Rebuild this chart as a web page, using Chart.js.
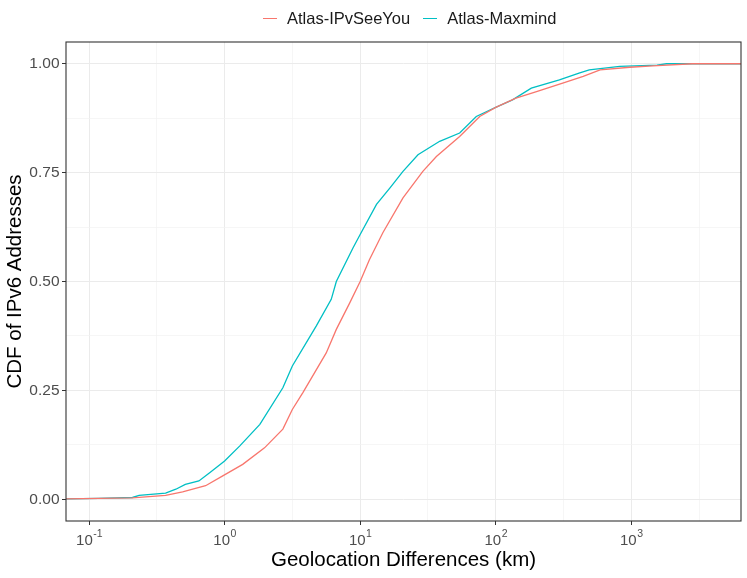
<!DOCTYPE html>
<html>
<head>
<meta charset="utf-8">
<script src="https://cdn.jsdelivr.net/npm/chart.js@4.4.1/dist/chart.umd.min.js"></script>
<style>
  html, body { margin: 0; padding: 0; background: #fff; }
  #wrap { position: relative; width: 747px; height: 578px; }
  #legend { position: absolute; left: 263px; top: 8px; height: 20px; display: flex; align-items: center;
            font-family: "Liberation Sans", Arial, sans-serif; font-size: 16.5px; color: #1a1a1a; }
  #legend .item { display: flex; align-items: center; margin-right: 13px; }
  #legend .key { width: 14px; height: 0; border-top: 1.3px solid; margin-right: 10px; }
</style>
</head>
<body>
<div id="wrap">
  <canvas id="chartCdf" width="747" height="578"></canvas>
  <div id="legend"></div>
</div>
<script>
// series names and colours
const seriesNames = ["Atlas-IPvSeeYou", "Atlas-Maxmind"];
const seriesColors = ["#F8766D", "#00BFC4"];

// Atlas-IPvSeeYou: distance (km) and CDF
const ipvKm  = [0.05, 0.209, 0.367, 0.49, 0.724, 0.962, 1.36, 1.97, 2.69, 3.16, 3.78, 5.62, 6.67, 8.38, 10, 11.7, 14.7, 20.7, 29.0, 36.5, 54.2, 76.2, 100, 141, 200, 316, 442, 589, 977, 1445, 2818, 8000];
const ipvCdf = [0, 0.003, 0.009, 0.017, 0.031, 0.053, 0.080, 0.118, 0.161, 0.206, 0.245, 0.336, 0.39, 0.451, 0.50, 0.55, 0.612, 0.692, 0.753, 0.787, 0.833, 0.879, 0.90, 0.921, 0.936, 0.956, 0.971, 0.986, 0.992, 0.995, 1.0, 1.0];

// Atlas-Maxmind
const mmKm  = [0.05, 0.117, 0.209, 0.234, 0.367, 0.437, 0.513, 0.646, 0.776, 1.0, 1.29, 1.82, 2.69, 3.16, 4.75, 6.12, 6.67, 8.85, 10, 13.2, 16.6, 20.7, 26.7, 38.6, 54.2, 71.9, 100, 133, 183, 295, 417, 490, 822, 1549, 1820, 8000];
const mmCdf = [0, 0.002, 0.004, 0.009, 0.014, 0.023, 0.034, 0.042, 0.061, 0.088, 0.122, 0.172, 0.256, 0.306, 0.398, 0.459, 0.50, 0.577, 0.608, 0.677, 0.715, 0.753, 0.791, 0.822, 0.841, 0.879, 0.90, 0.917, 0.944, 0.963, 0.979, 0.986, 0.994, 0.997, 1.0, 1.0];

// axis ticks (major labelled, minor only as grid lines)
const xMajor = [0.1, 1, 10, 100, 1000];
const xExponents = ["-1", "0", "1", "2", "3"];
const xMinor = [0.316, 3.16, 31.6, 316, 3162];
const yMajor = [0, 0.25, 0.5, 0.75, 1];
const yMinor = [0.125, 0.375, 0.625, 0.875];

const FONT = "'Liberation Sans', Arial, sans-serif";

// === Leyenda ===
const legend = document.getElementById("legend");
seriesNames.forEach((name, i) => {
  const it = document.createElement("div");
  it.className = "item";
  it.innerHTML = `<span class="key" style="border-color:${seriesColors[i]}"></span><span>${name}</span>`;
  legend.appendChild(it);
});

// panel border + 10^n labels with a real superscript
const panelExtras = {
  id: "panelExtras",
  afterDraw(chart) {
    const { ctx, chartArea: a } = chart;
    ctx.save();
    ctx.strokeStyle = "#333333";
    ctx.lineWidth = 1.1;
    ctx.strokeRect(a.left, a.top, a.right - a.left, a.bottom - a.top);

    const xs = chart.scales.x;
    ctx.fillStyle = "#4d4d4d";
    ctx.textBaseline = "alphabetic";
    ctx.textAlign = "left";
    xMajor.forEach((v, i) => {
      const px = xs.getPixelForValue(v);
      ctx.font = "15px " + FONT;
      const wBase = ctx.measureText("10").width;
      ctx.font = "10.5px " + FONT;
      const wExp = ctx.measureText(xExponents[i]).width;
      const x0 = px - (wBase + wExp) / 2;
      ctx.font = "15px " + FONT;
      ctx.fillText("10", x0, 545);
      ctx.font = "10.5px " + FONT;
      ctx.fillText(xExponents[i], x0 + wBase + 0.5, 537);
    });
    ctx.restore();
  }
};

const isMajorX = v => xMajor.some(m => Math.abs(Math.log10(m) - Math.log10(v)) < 1e-3);
const isMajorY = v => yMajor.some(m => Math.abs(m - v) < 1e-6);

new Chart(document.getElementById("chartCdf"), {
  type: "line",
  data: {
    datasets: [
      {
        label: seriesNames[0],
        data: ipvKm.map((x, i) => ({ x, y: ipvCdf[i] })),
        borderColor: seriesColors[0],
        borderWidth: 1.3,
        pointRadius: 0,
        tension: 0
      },
      {
        label: seriesNames[1],
        data: mmKm.map((x, i) => ({ x, y: mmCdf[i] })),
        borderColor: seriesColors[1],
        borderWidth: 1.3,
        pointRadius: 0,
        tension: 0
      }
    ]
  },
  options: {
    responsive: false,
    animation: false,
    layout: { padding: { top: 42, right: 6, left: 0, bottom: 0 } },
    plugins: { legend: { display: false }, tooltip: { enabled: false } },
    scales: {
      x: {
        type: "logarithmic",
        min: 0.0676,
        max: 6450,
        afterBuildTicks: s => { s.ticks = xMinor.concat(xMajor).sort((a, b) => a - b).map(v => ({ value: v })); },
        afterFit: s => { s.height = 57; },
        grid: {
          color: ctx => ctx.tick && isMajorX(ctx.tick.value) ? "#ebebeb" : "#f2f2f2",
          lineWidth: ctx => ctx.tick && isMajorX(ctx.tick.value) ? 1 : 0.7,
          tickColor: ctx => ctx.tick && isMajorX(ctx.tick.value) ? "#333333" : "rgba(0,0,0,0)",
          tickLength: 4
        },
        border: { display: false },
        ticks: {
          autoSkip: false,
          maxRotation: 0,
          callback: () => ""
        },
        title: {
          display: true,
          text: "Geolocation Differences (km)",
          color: "#000000",
          font: { family: FONT, size: 20.5 },
          padding: { top: 0, bottom: 5 }
        }
      },
      y: {
        min: -0.05,
        max: 1.05,
        afterBuildTicks: s => { s.ticks = yMajor.concat(yMinor).sort((a, b) => a - b).map(v => ({ value: v })); },
        afterFit: s => { s.width = 66; },
        grid: {
          color: ctx => ctx.tick && isMajorY(ctx.tick.value) ? "#ebebeb" : "#f2f2f2",
          lineWidth: ctx => ctx.tick && isMajorY(ctx.tick.value) ? 1 : 0.7,
          tickColor: ctx => ctx.tick && isMajorY(ctx.tick.value) ? "#333333" : "rgba(0,0,0,0)",
          tickLength: 4
        },
        border: { display: false },
        ticks: {
          padding: 2.5,
          color: "#4d4d4d",
          font: { family: FONT, size: 15.5 },
          callback: v => isMajorY(v) ? v.toFixed(2) : ""
        },
        title: {
          display: true,
          text: "CDF of IPv6 Addresses",
          color: "#000000",
          font: { family: FONT, size: 20.5 },
          padding: { top: 3, bottom: 0 }
        }
      }
    }
  },
  plugins: [panelExtras]
});
</script>
</body>
</html>
